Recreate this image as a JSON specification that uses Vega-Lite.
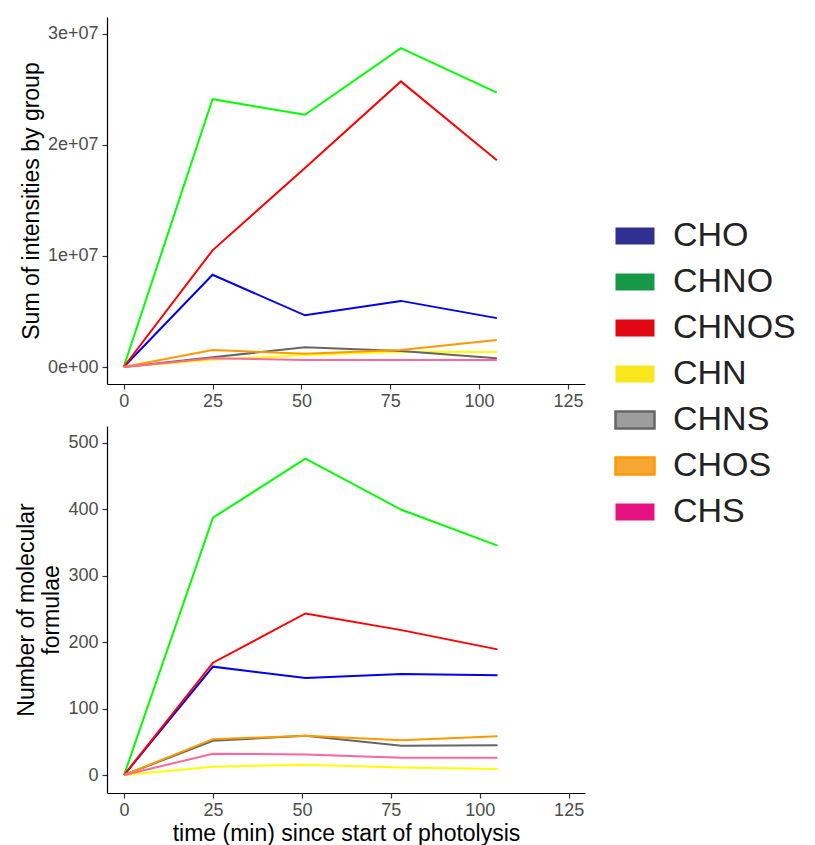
{
  "$schema": "https://vega.github.io/schema/vega-lite/v6.json",
  "background": "white",
  "padding": {"left": 15, "top": 17, "right": 5, "bottom": 0},
  "config": {
    "view": {"stroke": null},
    "font": "Liberation Sans",
    "axis": {
      "grid": false,
      "domainColor": "#000000",
      "domainWidth": 1.2,
      "tickColor": "#333333",
      "tickSize": 5,
      "tickWidth": 1.2,
      "labelColor": "#4d4d4d",
      "labelFontSize": 18,
      "labelFont": "Liberation Sans",
      "titleFont": "Liberation Sans",
      "titleFontSize": 23,
      "titleFontWeight": "normal",
      "titleColor": "#000000",
      "labelPadding": 3
    },
    "axisY": {"labelPadding": 4}
  },
  "datasets": {
    "intensity": [
      {"time": 0, "group": "CHO", "value": 0},
      {"time": 25, "group": "CHO", "value": 8300000},
      {"time": 51, "group": "CHO", "value": 4650000},
      {"time": 78, "group": "CHO", "value": 5950000},
      {"time": 105, "group": "CHO", "value": 4400000},
      {"time": 0, "group": "CHNO", "value": 0},
      {"time": 25, "group": "CHNO", "value": 24100000},
      {"time": 51, "group": "CHNO", "value": 22700000},
      {"time": 78, "group": "CHNO", "value": 28700000},
      {"time": 105, "group": "CHNO", "value": 24700000},
      {"time": 0, "group": "CHNOS", "value": 0},
      {"time": 25, "group": "CHNOS", "value": 10500000},
      {"time": 51, "group": "CHNOS", "value": 17900000},
      {"time": 78, "group": "CHNOS", "value": 25700000},
      {"time": 105, "group": "CHNOS", "value": 18600000},
      {"time": 0, "group": "CHN", "value": 0},
      {"time": 25, "group": "CHN", "value": 650000},
      {"time": 51, "group": "CHN", "value": 1080000},
      {"time": 78, "group": "CHN", "value": 1380000},
      {"time": 105, "group": "CHN", "value": 1350000},
      {"time": 0, "group": "CHNS", "value": 0},
      {"time": 25, "group": "CHNS", "value": 870000},
      {"time": 51, "group": "CHNS", "value": 1770000},
      {"time": 78, "group": "CHNS", "value": 1440000},
      {"time": 105, "group": "CHNS", "value": 780000},
      {"time": 0, "group": "CHOS", "value": 0},
      {"time": 25, "group": "CHOS", "value": 1530000},
      {"time": 51, "group": "CHOS", "value": 1200000},
      {"time": 78, "group": "CHOS", "value": 1530000},
      {"time": 105, "group": "CHOS", "value": 2430000},
      {"time": 0, "group": "CHS", "value": 0},
      {"time": 25, "group": "CHS", "value": 780000},
      {"time": 51, "group": "CHS", "value": 630000},
      {"time": 78, "group": "CHS", "value": 630000},
      {"time": 105, "group": "CHS", "value": 630000}
    ],
    "formulae": [
      {"time": 0, "group": "CHO", "value": 0},
      {"time": 25, "group": "CHO", "value": 163},
      {"time": 51, "group": "CHO", "value": 146},
      {"time": 78, "group": "CHO", "value": 152},
      {"time": 105, "group": "CHO", "value": 150},
      {"time": 0, "group": "CHNO", "value": 0},
      {"time": 25, "group": "CHNO", "value": 387},
      {"time": 51, "group": "CHNO", "value": 476},
      {"time": 78, "group": "CHNO", "value": 399},
      {"time": 105, "group": "CHNO", "value": 345},
      {"time": 0, "group": "CHNOS", "value": 0},
      {"time": 25, "group": "CHNOS", "value": 169},
      {"time": 51, "group": "CHNOS", "value": 243},
      {"time": 78, "group": "CHNOS", "value": 218},
      {"time": 105, "group": "CHNOS", "value": 189},
      {"time": 0, "group": "CHN", "value": 0},
      {"time": 25, "group": "CHN", "value": 12.5},
      {"time": 51, "group": "CHN", "value": 15.5},
      {"time": 78, "group": "CHN", "value": 11.5},
      {"time": 105, "group": "CHN", "value": 9},
      {"time": 0, "group": "CHNS", "value": 0},
      {"time": 25, "group": "CHNS", "value": 51.5},
      {"time": 51, "group": "CHNS", "value": 59},
      {"time": 78, "group": "CHNS", "value": 44},
      {"time": 105, "group": "CHNS", "value": 45},
      {"time": 0, "group": "CHOS", "value": 0},
      {"time": 25, "group": "CHOS", "value": 54},
      {"time": 51, "group": "CHOS", "value": 59},
      {"time": 78, "group": "CHOS", "value": 52.5},
      {"time": 105, "group": "CHOS", "value": 58.5},
      {"time": 0, "group": "CHS", "value": 0},
      {"time": 25, "group": "CHS", "value": 32},
      {"time": 51, "group": "CHS", "value": 31},
      {"time": 78, "group": "CHS", "value": 26},
      {"time": 105, "group": "CHS", "value": 26}
    ]
  },
  "spacing": 16,
  "vconcat": [
    {
      "width": 478,
      "height": 367,
      "data": {"name": "intensity"},
      "mark": {"type": "line", "strokeWidth": 2},
      "encoding": {
        "x": {"field": "time", "type": "quantitative",
              "scale": {"domain": [-4.7, 129.8], "nice": false, "zero": false},
              "axis": {"values": [0, 25, 50, 75, 100, 125], "title": null}},
        "y": {"field": "value", "type": "quantitative",
              "scale": {"domain": [-1530000, 31500000], "nice": false, "zero": false},
              "axis": {"values": [0, 10000000, 20000000, 30000000], "title": "Sum of intensities by group",
                       "labelExpr": "datum.value === 0 ? '0e+00' : (datum.value/10000000) + 'e+07'"}},
        "color": {"field": "group", "type": "nominal",
                  "scale": {"domain": ["CHO", "CHNO", "CHNOS", "CHN", "CHNS", "CHOS", "CHS"],
                            "range": ["#0000ee", "#00ff00", "#ff0000", "#ffff00", "#666666", "#ff9900", "#ff6699"]},
                  "legend": {
                    "title": null,
                    "orient": "none",
                    "legendX": 511,
                    "legendY": 202,
                    "symbolType": "M-1,-0.44H1V0.44H-1Z",
                    "symbolSize": 1521,
                    "labelFont": "Liberation Sans",
                    "labelFontSize": 34,
                    "labelColor": "#222222",
                    "labelOffset": 21,
                    "rowPadding": 12,
                    "encode": {
                      "symbols": {
                        "update": {
                          "fill": [
                            {"test": "datum.value === 'CHO'", "value": "#2e3192"},
                            {"test": "datum.value === 'CHNO'", "value": "#179848"},
                            {"test": "datum.value === 'CHNOS'", "value": "#e30613"},
                            {"test": "datum.value === 'CHN'", "value": "#f9e71e"},
                            {"test": "datum.value === 'CHNS'", "value": "#9d9d9d"},
                            {"test": "datum.value === 'CHOS'", "value": "#f4a733"},
                            {"value": "#e5127f"}
                          ],
                          "strokeWidth": {"signal": "datum.value === 'CHNS' || datum.value === 'CHOS' ? 2.5 : 0"},
                          "opacity": {"value": 1}
                        }
                      }
                    }
                  }}
      }
    },
    {
      "width": 478,
      "height": 367,
      "data": {"name": "formulae"},
      "mark": {"type": "line", "strokeWidth": 2},
      "encoding": {
        "x": {"field": "time", "type": "quantitative",
              "scale": {"domain": [-4.8, 129.6], "nice": false, "zero": false},
              "axis": {"values": [0, 25, 50, 75, 100, 125], "title": "time (min) since start of photolysis", "titlePadding": 3}},
        "y": {"field": "value", "type": "quantitative",
              "scale": {"domain": [-27, 525], "nice": false, "zero": false},
              "axis": {"values": [0, 100, 200, 300, 400, 500], "title": ["Number of molecular", "formulae"]}},
        "color": {"field": "group", "type": "nominal"}
      }
    }
  ]
}
